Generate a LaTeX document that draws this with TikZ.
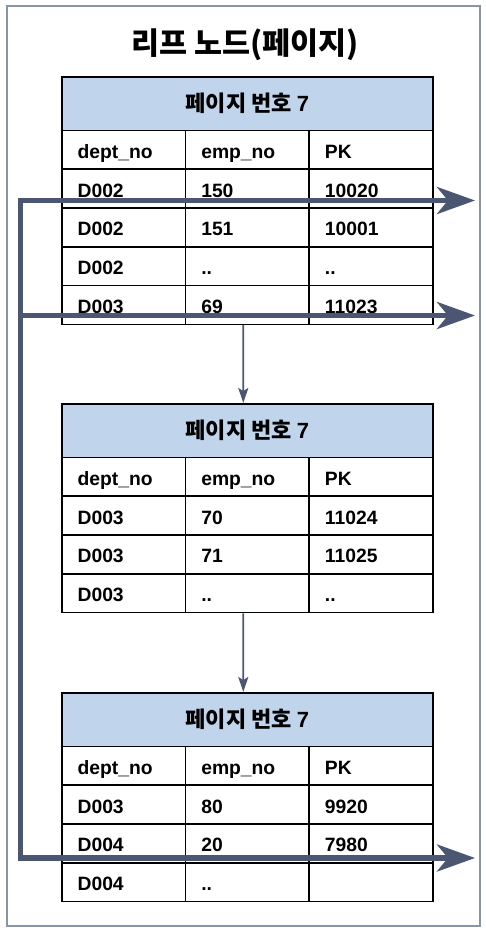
\documentclass[tikz,border=0pt]{standalone}
\usepackage{fontspec}
\setmainfont{Liberation Sans}
\newfontfamily\krfont{Noto Sans CJK KR}
\usetikzlibrary{arrows.meta}
\definecolor{hdr}{HTML}{C0D4EC}
\definecolor{slate}{HTML}{4B5672}
\definecolor{frm}{HTML}{8A94A8}
% one page of the leaf level: name, top edge, rows
\newcommand{\pagetab}[3]{%
\node[hdbox](#1) at (61,#2){페이지 번호 {\rmfamily\bfseries 7}};
\foreach \a/\b/\c [count=\i] in {#3}{
\node[cell](#1-\i-1) at (61,{#2+53.5+38.8*(\i-1)}){\a};
\node[cell](#1-\i-2) at (184.67,{#2+53.5+38.8*(\i-1)}){\b};
\node[cell](#1-\i-3) at (308.33,{#2+53.5+38.8*(\i-1)}){\c};
}}
\begin{document}
\begin{tikzpicture}[x=1pt,y=-1pt,line join=miter,
hdbox/.style={draw,fill=hdr,line width=1.6pt,anchor=north west,minimum width=371pt,minimum height=53.5pt,inner sep=0pt,font=\krfont\bfseries\fontsize{22}{26}\selectfont},
cell/.style={draw,line width=1.6pt,anchor=north west,text width=92pt,inner xsep=15.8pt,inner ysep=0pt,minimum height=38.8pt,text height=20pt,text depth=2.8pt,align=left,font=\fontsize{19.3}{22}\bfseries\selectfont},
link/.style={draw=slate,line width=1.8pt,-{Stealth[length=15pt,width=10pt,inset=3pt]}},
bus/.style={draw=slate,line width=5.5pt,-{Stealth[length=38pt,width=27pt,inset=11pt]}}]
\useasboundingbox(0,0) rectangle(486,930);
\draw[frm,line width=1.5pt](7,6) rectangle(480,926);
\node[font=\krfont\bfseries\fontsize{30.5}{34}\selectfont](title) at (245,45){리프 노드(페이지)};
\pagetab{t1}{76}{dept\_no/emp\_no/PK,D002/150/10020,D002/151/10001,D002/{..}/{..},D003/69/11023}
\pagetab{t2}{403}{dept\_no/emp\_no/PK,D003/70/11024,D003/71/11025,D003/{..}/{..}}
\pagetab{t3}{692}{dept\_no/emp\_no/PK,D003/80/9920,D004/20/7980,D004/{..}/{}}
\draw[link]([xshift=-4pt]t1-5-2.south)--([xshift=-4pt]t2.north);
\draw[link]([xshift=-4pt]t2-4-2.south)--([xshift=-4pt]t3.north);
% scan along the leaf pages
\coordinate(s) at (20.5,200.5);
\coordinate(e1) at (475,200.5);
\coordinate(e2) at (475,315.5);
\coordinate(e3) at (475,858);
\draw[bus](s)--(e1);
\draw[bus]([yshift=2.75pt]s)|-(e2);
\draw[bus]([yshift=2.75pt]s)|-(e3);
\end{tikzpicture}
\end{document}
